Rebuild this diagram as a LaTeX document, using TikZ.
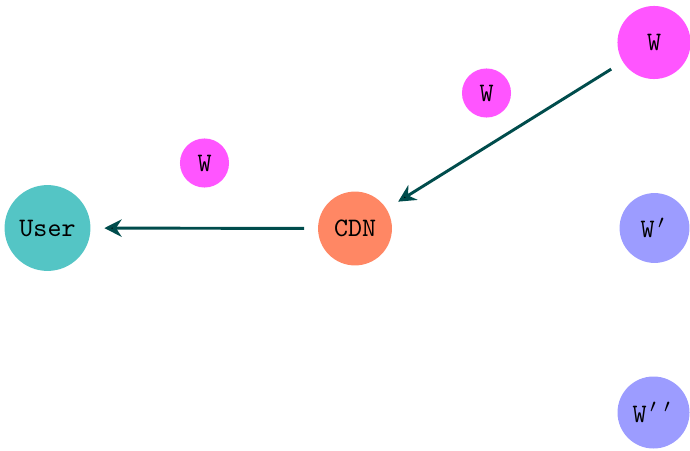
\documentclass[tikz,border=0pt]{standalone}
\usetikzlibrary{arrows.meta}

\definecolor{usercol}{RGB}{84,197,197}
\definecolor{cdncol}{RGB}{255,135,100}
\definecolor{wcol}{RGB}{255,85,255}
\definecolor{wpcol}{RGB}{156,156,255}
\definecolor{flowcol}{RGB}{0,76,76}

% a prime that takes one monospaced cell
\newcommand{\ttprime}{\makebox[0.525em]{$'$}}

\tikzset{
  site/.style={circle,draw=none,font=\ttfamily,inner sep=0pt},
  pkt/.style={site,fill=wcol,minimum size=18.4pt},
  flow/.style={-{Stealth[length=6.5pt,width=6.5pt]},draw=flowcol,line width=1.1pt,shorten <=5pt,shorten >=5pt}
}

\begin{document}
\begin{tikzpicture}[x=0.375pt,y=0.375pt]
\useasboundingbox (0,0) rectangle (690,450);

\node[site,fill=usercol,minimum size=32.2pt] (User) at (47.5,222) {User};
\node[site,fill=cdncol,minimum size=27.7pt] (CDN) at (355,221.5) {CDN};
\node[site,fill=wcol,minimum size=27.4pt] (W) at (654,407.5) {W};
\node[site,fill=wpcol,minimum size=26.2pt] (Wp) at (654.5,222) {W\ttprime};
\node[site,fill=wpcol,minimum size=27pt] (Wpp) at (653.5,37.5) {W\ttprime\ttprime};

% packets in flight
\node[pkt] (pkt-1) at (486.5,357) {W};
\node[pkt] (pkt-2) at (204.5,287) {W};

\path[flow] (W) edge (CDN);
\path[flow] (CDN) edge (User);
\end{tikzpicture}
\end{document}
